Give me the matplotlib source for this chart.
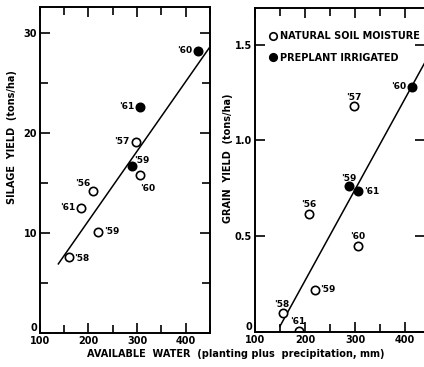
import matplotlib.pyplot as plt

plt.rcParams['font.family'] = ['DejaVu Sans']
plt.rcParams['font.size'] = 7

# silage yield (left panel)
sil_open_x = [297, 307, 210, 185, 220, 160]
sil_open_y = [19.1, 15.8, 14.2, 12.5, 10.1, 7.6]
sil_open_lab = ["'57", "'60", "'56", "'61", "'59", "'58"]
sil_fill_x = [425, 307, 289]
sil_fill_y = [28.2, 22.6, 16.7]
sil_fill_lab = ["'60", "'61", "'59"]
sil_line_x = [138, 450]
sil_line_y = [6.9, 28.6]

# grain yield (right panel)
gr_open_x = [298, 208, 306, 220, 156, 188]
gr_open_y = [1.18, 0.615, 0.45, 0.22, 0.10, 0.005]
gr_open_lab = ["'57", "'56", "'60", "'59", "'58", "'61"]
gr_fill_x = [414, 288, 306]
gr_fill_y = [1.28, 0.76, 0.735]
gr_fill_lab = ["'60", "'59", "'61"]
gr_line_x = [150, 440]
gr_line_y = [0.03, 1.41]

# label offsets (points) for year tags
sil_open_off = [(-4, 0, 'right'), (0, -10, 'left'), (-2, 5, 'right'), (-4, 0, 'right'), (4, 0, 'left'), (4, -1, 'left')]
sil_fill_off = [(-4, 0, 'right'), (-4, 0, 'right'), (2, 4, 'left')]
gr_open_off = [(0, 6, 'center'), (0, 7, 'center'), (0, 7, 'center'), (4, 0, 'left'), (-1, 6, 'center'), (-1, 7, 'center')]
gr_fill_off = [(-4, 0, 'right'), (0, 6, 'center'), (4, 0, 'left')]

fig = plt.figure(figsize=(4.24, 3.67), dpi=100)
ax1 = fig.add_axes([0.094, 0.093, 0.401, 0.888])
ax2 = fig.add_axes([0.601, 0.095, 0.402, 0.883])

mk = dict(markersize=6, markeredgewidth=1.2, linestyle='none', color='black')


def tag(ax, xs, ys, labs, offs):
    for x, y, s, (dx, dy, ha) in zip(xs, ys, labs, offs):
        ax.annotate(s, (x, y), xytext=(dx, dy), textcoords='offset points',
                    ha=ha, va='center', fontsize=6.5, fontweight='bold')


ax1.plot(sil_line_x, sil_line_y, color='black', lw=1.1)
ax1.plot(sil_open_x, sil_open_y, marker='o', markerfacecolor='white', **mk)
ax1.plot(sil_fill_x, sil_fill_y, marker='o', **mk)
tag(ax1, sil_open_x, sil_open_y, sil_open_lab, sil_open_off)
tag(ax1, sil_fill_x, sil_fill_y, sil_fill_lab, sil_fill_off)
ax1.set_xlim(100, 450)
ax1.set_ylim(0, 32.6)
ax1.set_xticks([100, 200, 300, 400])
ax1.set_xticks([150, 250, 350, 450], minor=True)
ax1.set_yticks([0, 10, 20, 30])
ax1.set_yticks([5, 15, 25], minor=True)

ax2.plot(gr_line_x, gr_line_y, color='black', lw=1.1)
h1, = ax2.plot(gr_open_x, gr_open_y, marker='o', markerfacecolor='white', **mk)
h2, = ax2.plot(gr_fill_x, gr_fill_y, marker='o', **mk)
tag(ax2, gr_open_x, gr_open_y, gr_open_lab, gr_open_off)
tag(ax2, gr_fill_x, gr_fill_y, gr_fill_lab, gr_fill_off)
ax2.set_xlim(100, 440)
ax2.set_ylim(0, 1.69)
ax2.set_xticks([100, 200, 300, 400])
ax2.set_xticks([150, 250, 350], minor=True)
ax2.set_yticks([0, 0.5, 1.0, 1.5])
ax2.set_yticklabels(['0', '0.5', '1.0', '1.5'])
ax2.legend([h1, h2], ['NATURAL SOIL MOISTURE', 'PREPLANT IRRIGATED'],
           loc='upper left', bbox_to_anchor=(0.025, 0.95), frameon=False,
           handletextpad=0.05, borderaxespad=0.3, labelspacing=1.2,
           handlelength=1.4, prop={'size': 7, 'weight': 'bold'},
           markerscale=0.9)

for ax in (ax1, ax2):
    for s in ax.spines.values():
        s.set_linewidth(1.4)
    ax.tick_params(which='both', direction='in', top=True, right=True,
                   width=1.2, labelsize=7, pad=2)
    ax.tick_params(which='major', length=7)
    ax.tick_params(which='minor', length=6)
    for t in ax.get_xticklabels() + ax.get_yticklabels():
        t.set_fontweight('bold')
    # lift the "0" so it clears the "100" below it
    ax.get_yticklabels()[0].set_va('bottom')

fig.text(0.028, 0.627, 'SILAGE  YIELD  (tons/ha)', rotation=90, ha='center',
         va='center', fontsize=7, fontweight='bold')
fig.text(0.538, 0.57, 'GRAIN  YIELD  (tons/ha)', rotation=90, ha='center',
         va='center', fontsize=7, fontweight='bold')
fig.text(0.205, 0.035, 'AVAILABLE  WATER  (planting plus  precipitation, mm)',
         ha='left', va='center', fontsize=7, fontweight='bold')

fig.savefig('out.png', dpi=100)
